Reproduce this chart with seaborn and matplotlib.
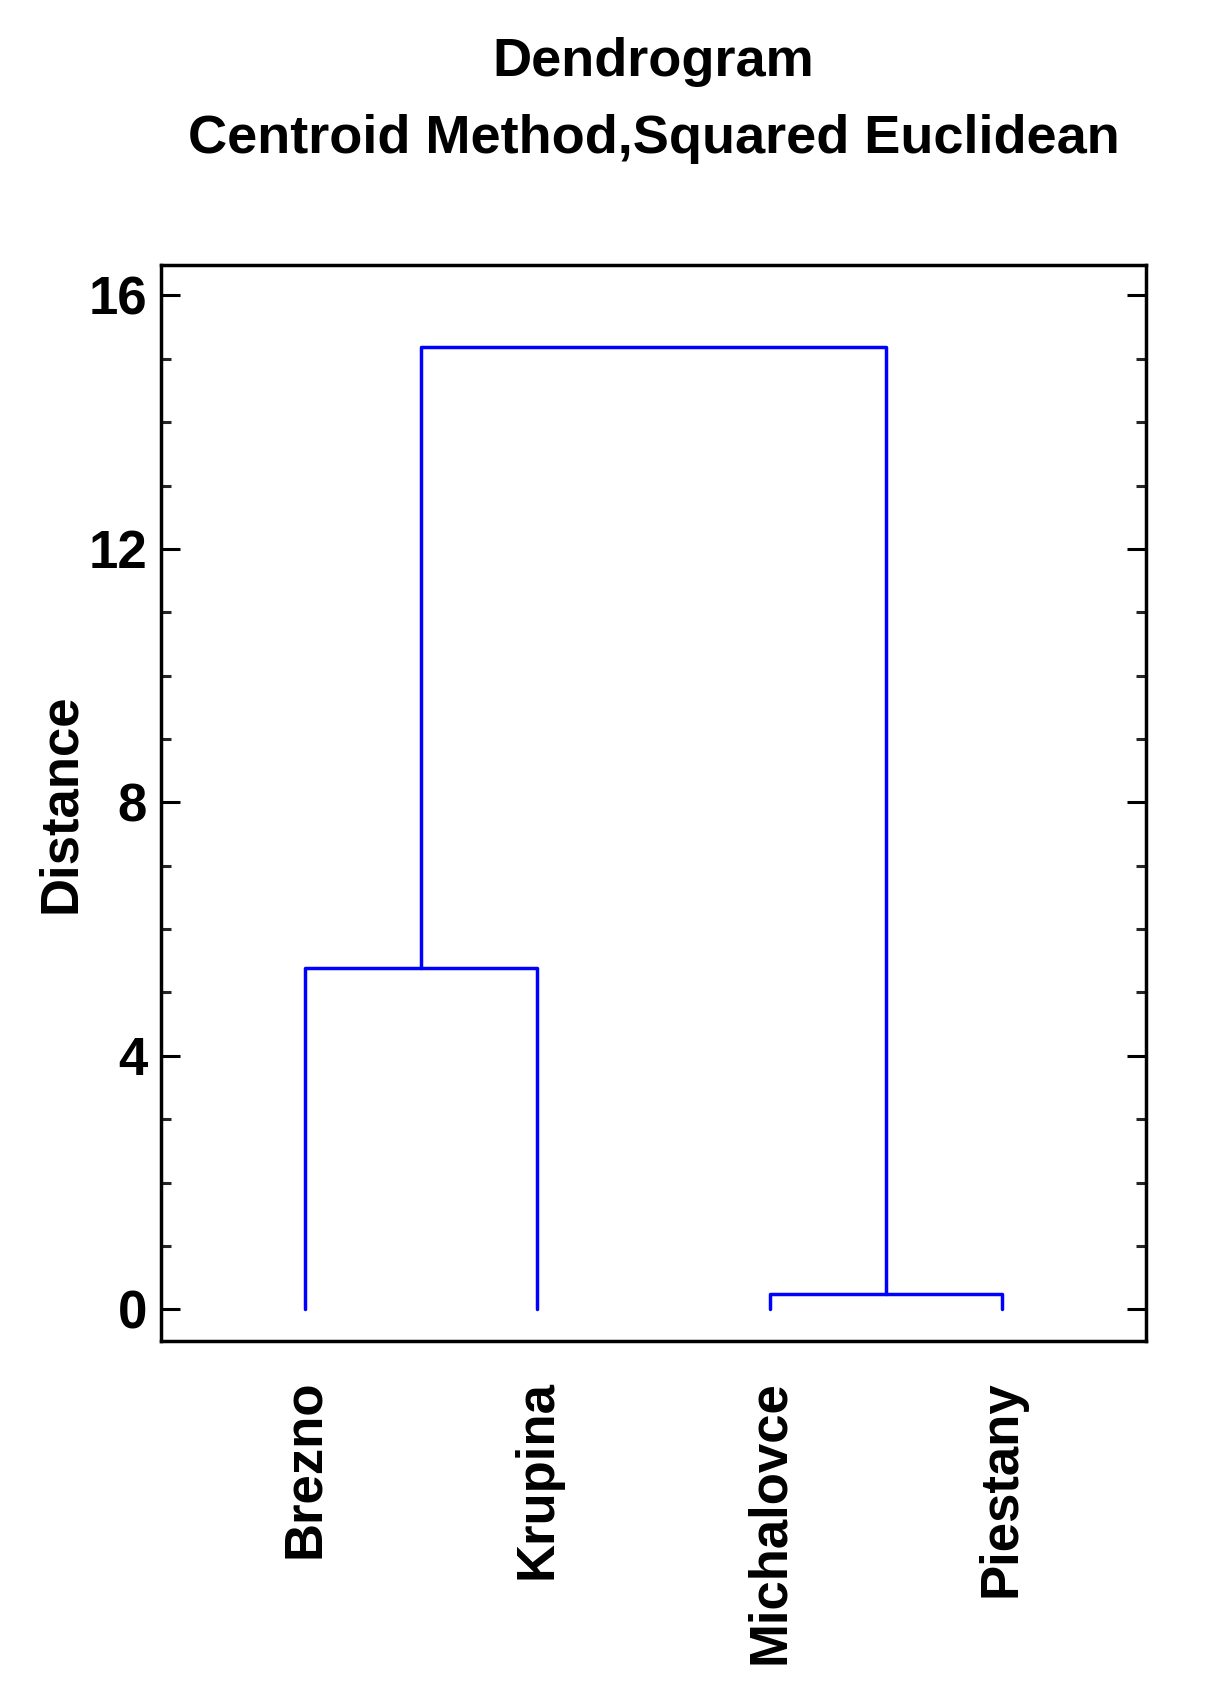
import numpy as np
import pandas as pd
import matplotlib
matplotlib.use("Agg")
import matplotlib.pyplot as plt
from matplotlib.ticker import MultipleLocator
import seaborn as sns

# leaves in dendrogram order and the merges (node ids: leaves 0-3, merges 4, 5, 6)
leaves = ["Brezno", "Krupina", "Michalovce", "Piestany"]
merge_left = [0, 2, 4]
merge_right = [1, 3, 5]
merge_height = [5.38, 0.24, 15.18]
y_ticks = [0, 4, 8, 12, 16]


def build_segments(leaves, left, right, height):
    # position and height of every node, leaves at 1..n
    pos = {i: i + 1.0 for i in range(len(leaves))}
    hgt = {i: 0.0 for i in range(len(leaves))}
    rows = []
    for k, (a, b, h) in enumerate(zip(left, right, height)):
        node = len(leaves) + k
        pts = [(pos[a], hgt[a]), (pos[a], h), (pos[b], h), (pos[b], hgt[b])]
        for order, (x, y) in enumerate(pts):
            rows.append({"seg": k, "order": order, "x": x, "y": y})
        pos[node] = (pos[a] + pos[b]) / 2
        hgt[node] = h
    return pd.DataFrame(rows)


segs = build_segments(leaves, merge_left, merge_right, merge_height)

sns.set_style("white")
plt.rcParams["font.family"] = ["Liberation Sans", "DejaVu Sans"]
plt.rcParams["font.weight"] = "bold"
plt.rcParams["text.color"] = "black"
plt.rcParams["axes.labelcolor"] = "black"

fig = plt.figure(figsize=(12.14, 17.04), dpi=100)
ax = fig.add_axes([0.1326, 0.2130, 0.8114, 0.6315])

sns.lineplot(data=segs, x="x", y="y", units="seg", estimator=None, sort=False,
             color="#0000ff", linewidth=2.5, ax=ax, legend=False)

ax.set_xlim(0.38, 4.62)
ax.set_ylim(-0.5, 16.48)
ax.set_xticks(range(1, len(leaves) + 1))
ax.set_xticklabels(leaves, rotation=90, fontsize=38, fontweight="bold")
ax.set_yticks(y_ticks)
ax.set_yticklabels([str(t) for t in y_ticks], fontsize=38, fontweight="bold")
ax.yaxis.set_minor_locator(MultipleLocator(1))

ax.tick_params(axis="y", which="major", direction="in", length=13.5, width=2.2,
               left=True, right=True, pad=10, colors="black")
ax.tick_params(axis="y", which="minor", direction="in", length=7, width=2.2,
               left=True, right=True)
ax.tick_params(axis="x", which="both", length=0, pad=28, colors="black")

for sp in ax.spines.values():
    sp.set_visible(True)
    sp.set_color("black")
    sp.set_linewidth(2.5)

ax.set_xlabel("")
ax.set_ylabel("Distance", fontsize=38, fontweight="bold", labelpad=2)

fig.text(0.5383, 1 - 62 / 1704, "Dendrogram", ha="center", va="center",
         fontsize=39, fontweight="bold", color="black")
fig.text(0.5383, 1 - 139 / 1704, "Centroid Method,Squared Euclidean",
         ha="center", va="center", fontsize=39, fontweight="bold", color="black")

fig.savefig("out.png", dpi=100)
